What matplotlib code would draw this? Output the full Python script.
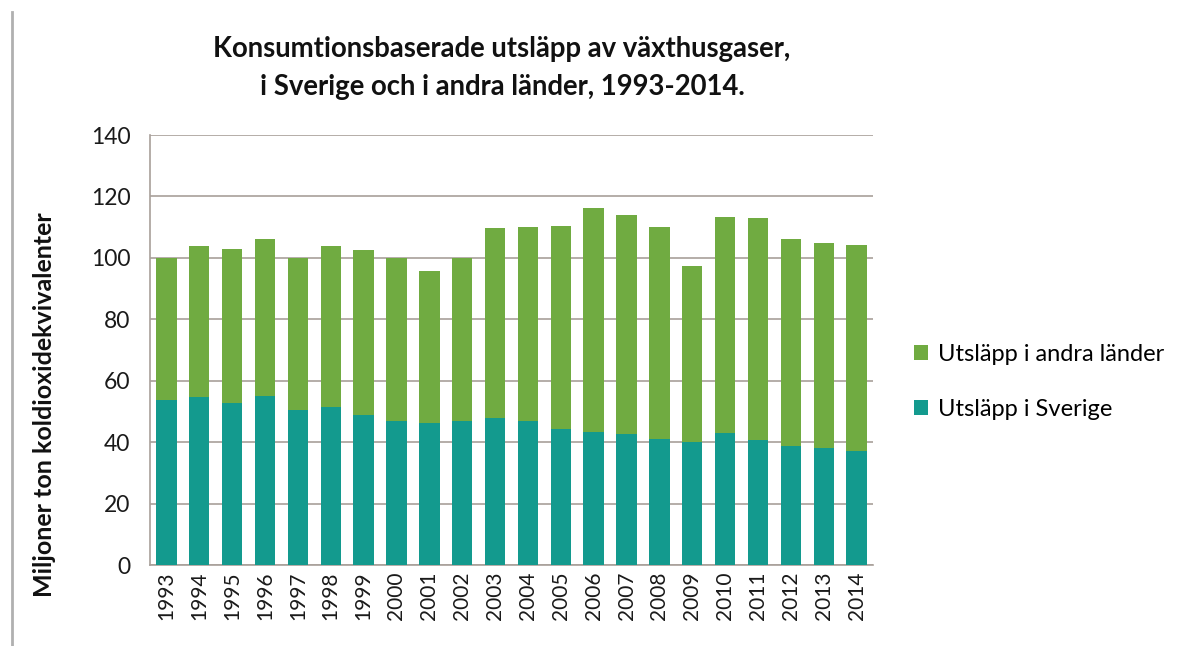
import matplotlib
matplotlib.use("Agg")
import matplotlib.pyplot as plt
from matplotlib.lines import Line2D
import numpy as np

years = [str(y) for y in range(1993, 2015)]
total = [100.0, 103.9, 103.0, 106.3, 100.0, 103.8, 102.7, 99.8, 95.7, 99.8,
         109.7, 109.9, 110.3, 116.2, 114.0, 109.9, 97.4, 113.4, 113.1, 106.0,
         104.9, 104.2]
sverige = [53.7, 54.6, 52.6, 55.1, 50.5, 51.4, 49.0, 47.0, 46.2, 47.0,
           47.8, 47.0, 44.3, 43.2, 42.7, 41.1, 40.2, 43.0, 40.8, 38.7,
           38.1, 37.0]
andra = [t - s for t, s in zip(total, sverige)]

title = "Konsumtionsbaserade utsläpp av växthusgaser,\ni Sverige och i andra länder, 1993-2014."
ylabel = "Miljoner ton koldioxidekvivalenter"
lab_andra = "Utsläpp i andra länder"
lab_sverige = "Utsläpp i Sverige"

c_green = "#70AB41"
c_teal = "#139A8E"
c_grid = "#A8A09A"

plt.rcParams['font.family'] = ['Lato', 'DejaVu Sans']

fig = plt.figure(figsize=(11.95, 6.46), dpi=100)
ax = fig.add_axes([150/1195, 81/646, 723/1195, 430/646])

x = np.arange(len(years))
ax.bar(x, sverige, width=0.62, color=c_teal, label=lab_sverige, zorder=3)
ax.bar(x, andra, bottom=sverige, width=0.62, color=c_green, label=lab_andra, zorder=3)

ax.set_xlim(-0.5, len(years) - 0.5)
ax.set_ylim(0, 140)
ax.set_yticks(range(0, 141, 20))
ax.yaxis.grid(True, color=c_grid, linewidth=1.2, zorder=0)
ax.set_axisbelow(True)
for s in ["top", "right"]:
    ax.spines[s].set_visible(False)
ax.spines["left"].set_color(c_grid)
ax.spines["bottom"].set_color(c_grid)
ax.spines["left"].set_linewidth(1.2)
ax.spines["bottom"].set_linewidth(1.2)

ax.set_xticks(x)
ax.set_xticklabels(years, rotation=90, fontsize=15, color="#1a1a1a")
ax.tick_params(axis="y", labelsize=16.5, colors="#1a1a1a", length=0, pad=14)
ax.tick_params(axis="x", length=0, pad=5)

fig.text(45/1195, 1 - 405/646, ylabel, rotation=90, fontsize=18, fontweight="bold",
         ha="center", va="center", color="#111111")
fig.text(502/1195, 1 - 68/646, title, ha="center", va="center", fontsize=19.8,
         fontweight="bold", linespacing=1.55, color="#111111")

handles, labels = ax.get_legend_handles_labels()
leg = fig.legend(handles[::-1], labels[::-1], loc="center left",
                 bbox_to_anchor=(893/1195, 1 - 382/646), frameon=False, fontsize=17,
                 handlelength=0.6, handleheight=0.6, handletextpad=0.4,
                 labelspacing=1.45)

fig.add_artist(Line2D([12/1195, 12/1195], [0, 1 - 12/646], color="#b0b0b0",
                      linewidth=2, transform=fig.transFigure))

fig.savefig("out.png", dpi=100, facecolor="white")
